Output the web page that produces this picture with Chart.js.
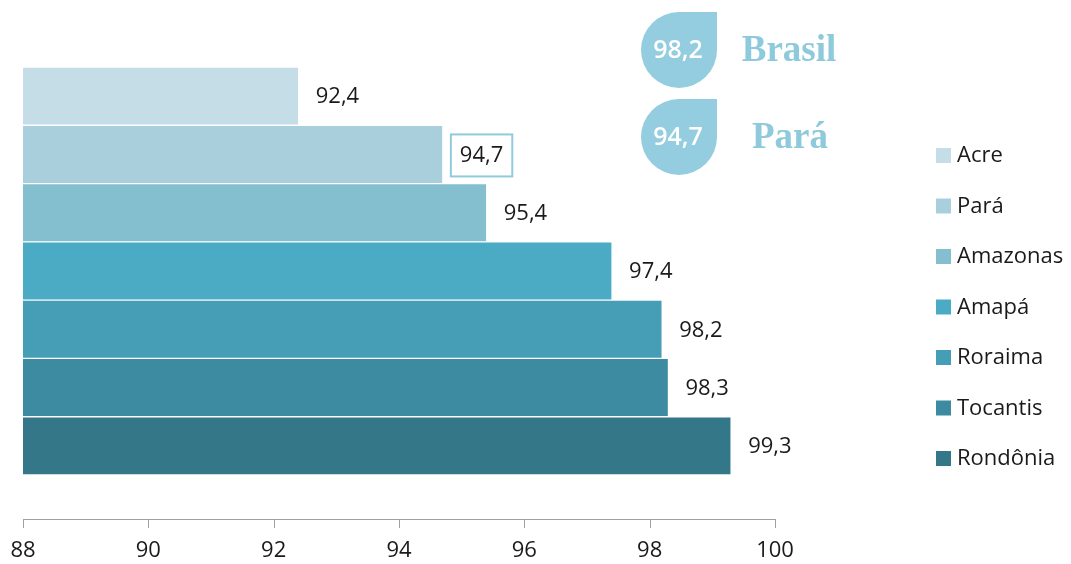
<!DOCTYPE html>
<html>
<head>
<meta charset="utf-8">
<script src="https://cdn.jsdelivr.net/npm/chart.js@4"></script>
<style>
  html, body { margin: 0; padding: 0; background: #fff; }
  #wrap { width: 1071px; height: 564px; }
</style>
</head>
<body>
<div id="wrap"><canvas id="rateChart" width="1071" height="564"></canvas></div>
<script>
const regions = ['Acre', 'Pará', 'Amazonas', 'Amapá', 'Roraima', 'Tocantis', 'Rondônia'];
const rates = [92.4, 94.7, 95.4, 97.4, 98.2, 98.3, 99.3];
const barColors = ['#c5dde6', '#a9cfdd', '#84bfcf', '#4babc5', '#469db6', '#3d8ba0', '#347789'];
const xTicks = [88, 90, 92, 94, 96, 98, 100];
const highlightNames = ['Brasil', 'Pará'];
const highlightValues = [98.2, 94.7];
const boxedRegion = 'Pará';

const fmt = v => v.toFixed(1).replace('.', ',');
const labelFont = "22px 'Open Sans', sans-serif";
const drop = '#93cddf';

// value labels to the right of each bar
const valueLabels = {
    id: 'valueLabels',
    afterDatasetsDraw(chart) {
        const ctx = chart.ctx;
        const meta = chart.getDatasetMeta(0);
        ctx.save();
        ctx.font = labelFont;
        ctx.fillStyle = '#1a1a1a';
        ctx.textBaseline = 'middle';
        ctx.textAlign = 'left';
        meta.data.forEach((bar, i) => {
            const txt = fmt(rates[i]);
            const x = bar.x + 17;
            const y = bar.y + 1;
            ctx.fillText(txt, x, y);
            if (regions[i] === boxedRegion) {
                const w = ctx.measureText(txt).width;
                ctx.strokeStyle = '#8fcbdc';
                ctx.lineWidth = 2;
                ctx.strokeRect(x - 9, y - 21, w + 18, 42);
            }
        });
        ctx.restore();
    }
};

// axis line sitting below the bars
const axisLine = {
    id: 'axisLine',
    afterDraw(chart) {
        const ctx = chart.ctx;
        const sx = chart.scales.x;
        const y = 519;
        ctx.save();
        ctx.strokeStyle = '#a0a0a0';
        ctx.lineWidth = 1;
        ctx.beginPath();
        ctx.moveTo(sx.getPixelForValue(xTicks[0]), y + 0.5);
        ctx.lineTo(sx.getPixelForValue(xTicks[xTicks.length - 1]), y + 0.5);
        xTicks.forEach(t => {
            const px = Math.round(sx.getPixelForValue(t)) + 0.5;
            ctx.moveTo(px, y);
            ctx.lineTo(px, y + 9);
        });
        ctx.stroke();
        ctx.restore();
    }
};

// legend on the right
const sideLegend = {
    id: 'sideLegend',
    afterDraw(chart) {
        const ctx = chart.ctx;
        ctx.save();
        ctx.font = labelFont;
        ctx.textBaseline = 'middle';
        regions.forEach((name, i) => {
            const y = 155 + i * 50.5;
            ctx.fillStyle = barColors[i];
            ctx.fillRect(936, y - 7, 15, 15);
            ctx.fillStyle = '#1a1a1a';
            ctx.fillText(name, 957, y + 1);
        });
        ctx.restore();
    }
};

// drop badges with the Brasil / Pará values
const badges = {
    id: 'badges',
    afterDraw(chart) {
        const ctx = chart.ctx;
        const cx = 679, r = 38;
        const centers = [50, 137];
        const nameX = [789, 790];
        ctx.save();
        highlightNames.forEach((name, i) => {
            const cy = centers[i];
            ctx.fillStyle = drop;
            ctx.beginPath();
            ctx.moveTo(cx, cy - r);
            ctx.lineTo(cx + r, cy - r);
            ctx.lineTo(cx + r, cy);
            ctx.arc(cx, cy, r, 0, 1.5 * Math.PI);
            ctx.closePath();
            ctx.fill();

            ctx.fillStyle = '#ffffff';
            ctx.font = "600 25px 'Open Sans', sans-serif";
            ctx.textAlign = 'center';
            ctx.textBaseline = 'middle';
            ctx.fillText(fmt(highlightValues[i]), cx - 1, cy + 1);

            ctx.fillStyle = '#8ecadb';
            ctx.font = "bold 37px 'Liberation Serif', serif";
            ctx.fillText(name, nameX[i], cy + 1);
        });
        ctx.restore();
    }
};

new Chart(document.getElementById('rateChart'), {
    type: 'bar',
    data: {
        labels: regions,
        datasets: [{
            data: rates,
            backgroundColor: barColors,
            borderColor: 'rgba(255,255,255,0.7)',
            borderWidth: 1,
            barPercentage: 1,
            categoryPercentage: 1
        }]
    },
    options: {
        indexAxis: 'y',
        responsive: false,
        animation: false,
        layout: { padding: { left: 23, right: 296, top: 67, bottom: 0 } },
        plugins: {
            legend: { display: false },
            tooltip: { enabled: false }
        },
        scales: {
            x: {
                min: 88,
                max: 100,
                afterBuildTicks: s => { s.ticks = xTicks.map(v => ({ value: v })); },
                afterFit: s => { s.height = 89; },
                grid: { display: false, drawTicks: true, tickLength: 59 },
                border: { display: false },
                ticks: {
                    padding: 4,
                    color: '#1a1a1a',
                    font: { family: "'Open Sans', sans-serif", size: 22 },
                    maxRotation: 0
                }
            },
            y: { display: false }
        }
    },
    plugins: [valueLabels, axisLine, sideLegend, badges]
});
</script>
</body>
</html>
